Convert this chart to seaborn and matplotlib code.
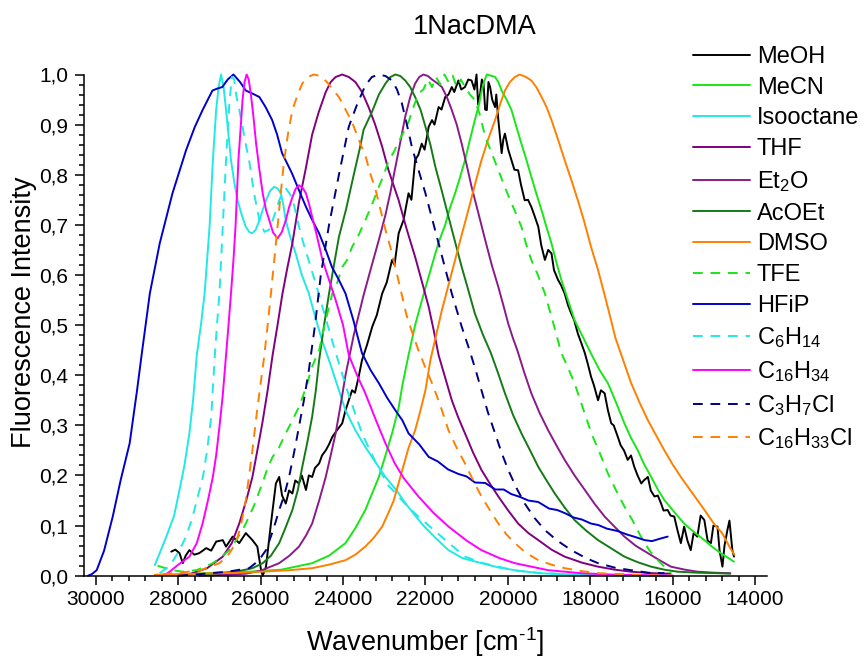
import matplotlib
matplotlib.use("Agg")
import matplotlib.pyplot as plt
from matplotlib.ticker import MultipleLocator, FuncFormatter
import seaborn as sns

# ---------------- data ----------------
meoh_wn = [28170, 28070, 27970, 27890, 27820, 27730, 27610, 27490, 27320, 27200, 27080, 26920, 26840, 26680,
           26520, 26360, 26280, 26200, 26080, 25990, 25950, 25870, 25750, 25630, 25550, 25480, 25390, 25310,
           25230, 25160, 25070, 25000, 24900, 24830, 24750, 24680, 24580, 24510, 24420, 24340, 24260, 24150,
           24020, 23940, 23860, 23780, 23710, 23620, 23540, 23420, 23290, 23180, 23050, 22940, 22810, 22750,
           22650, 22530, 22410, 22340, 22250, 22170, 22090, 22020, 21920, 21840, 21780, 21680, 21610, 21520,
           21440, 21360, 21300, 21200, 21130, 21040, 20960, 20880, 20810, 20760, 20720, 20670, 20630, 20590,
           20550, 20510, 20470, 20430, 20380, 20310, 20280, 20230, 20150, 20110, 20070, 19990, 19910, 19840,
           19750, 19680, 19590, 19510, 19430, 19360, 19260, 19190, 19100, 19020, 18940, 18880, 18780, 18710,
           18620, 18540, 18460, 18390, 18300, 18220, 18130, 18050, 17980, 17910, 17810, 17740, 17650, 17570,
           17490, 17430, 17330, 17260, 17180, 17090, 17010, 16930, 16850, 16760, 16700, 16600, 16530, 16440,
           16360, 16280, 16220, 16120, 16050, 15960, 15880, 15800, 15720, 15640, 15560, 15490, 15400, 15320,
           15230, 15150, 15070, 15010, 14910, 14860, 14790, 14740, 14670, 14620, 14550, 14510]
meoh_int = [0.048, 0.052, 0.045, 0.025, 0.040, 0.051, 0.042, 0.045, 0.055, 0.050, 0.068, 0.071, 0.058, 0.078,
            0.065, 0.085, 0.078, 0.071, 0.058, 0.011, 0.000, 0.018, 0.104, 0.184, 0.197, 0.160, 0.144, 0.170,
            0.164, 0.190, 0.184, 0.200, 0.171, 0.200, 0.197, 0.215, 0.224, 0.240, 0.250, 0.262, 0.277, 0.290,
            0.304, 0.330, 0.350, 0.370, 0.365, 0.397, 0.430, 0.460, 0.497, 0.520, 0.563, 0.585, 0.630, 0.620,
            0.683, 0.710, 0.763, 0.750, 0.829, 0.840, 0.862, 0.850, 0.896, 0.909, 0.900, 0.935, 0.930, 0.955,
            0.960, 0.975, 0.965, 0.988, 0.970, 0.975, 0.990, 0.988, 0.970, 1.000, 0.940, 0.962, 0.990, 0.982,
            0.930, 0.929, 0.985, 0.975, 0.950, 0.935, 0.960, 0.909, 0.843, 0.870, 0.882, 0.850, 0.829, 0.810,
            0.809, 0.780, 0.749, 0.750, 0.736, 0.720, 0.696, 0.660, 0.630, 0.650, 0.643, 0.610, 0.590, 0.580,
            0.563, 0.540, 0.523, 0.510, 0.483, 0.465, 0.444, 0.420, 0.397, 0.380, 0.350, 0.370, 0.364, 0.330,
            0.304, 0.300, 0.277, 0.260, 0.250, 0.231, 0.240, 0.217, 0.200, 0.184, 0.190, 0.197, 0.170, 0.158,
            0.160, 0.144, 0.130, 0.131, 0.120, 0.118, 0.090, 0.065, 0.098, 0.070, 0.051, 0.085, 0.078, 0.120,
            0.111, 0.070, 0.065, 0.100, 0.098, 0.050, 0.018, 0.060, 0.091, 0.110, 0.051, 0.038]

mecn_wn = [27970, 27000, 26280, 25500, 24750, 24340, 23940, 23700, 23460, 23290, 23130, 22970, 22810, 22650,
           22560, 22410, 22250, 22050, 21840, 21680, 21520, 21400, 21280, 21160, 21040, 20920, 20800, 20700,
           20640, 20580, 20510, 20420, 20310, 20230, 20150, 20030, 19910, 19790, 19670, 19550, 19430, 19310,
           19180, 19060, 18940, 18820, 18700, 18540, 18380, 18170, 17960, 17770, 17570, 17370, 17170, 17010,
           16850, 16690, 16520, 16360, 16200, 15960, 15720, 15480, 15230, 15030, 14830, 14660, 14510]
mecn_int = [0.003, 0.006, 0.008, 0.012, 0.025, 0.040, 0.065, 0.095, 0.131, 0.165, 0.197, 0.240, 0.284, 0.335,
            0.380, 0.440, 0.500, 0.560, 0.620, 0.665, 0.700, 0.735, 0.763, 0.795, 0.829, 0.870, 0.909, 0.940,
            0.965, 0.985, 1.000, 0.998, 0.995, 0.985, 0.968, 0.950, 0.929, 0.895, 0.862, 0.830, 0.796, 0.763,
            0.729, 0.695, 0.663, 0.625, 0.590, 0.550, 0.510, 0.475, 0.440, 0.410, 0.384, 0.345, 0.304, 0.275,
            0.251, 0.222, 0.197, 0.172, 0.151, 0.127, 0.104, 0.087, 0.071, 0.057, 0.045, 0.036, 0.028]

isooctane_wn = [28570, 28450, 28290, 28100, 27970, 27850, 27730, 27640, 27550, 27450, 27360, 27300, 27240, 27160,
                27080, 27020, 26960, 26900, 26840, 26780, 26720, 26640, 26560, 26460, 26360, 26280, 26210, 26120,
                26030, 25950, 25870, 25770, 25670, 25580, 25510, 25450, 25390, 25280, 25150, 25000, 24830, 24670,
                24510, 24300, 24100, 23940, 23700, 23460, 23200, 22970, 22700, 22490, 22250, 22050, 21750, 21440,
                21100, 20640, 20200, 19830, 19260, 18600, 17800, 16800, 16000]
isooctane_int = [0.021, 0.045, 0.078, 0.120, 0.171, 0.220, 0.284, 0.350, 0.440, 0.500, 0.563, 0.630, 0.696, 0.829,
                 0.929, 0.975, 1.000, 0.975, 0.929, 0.880, 0.829, 0.785, 0.749, 0.720, 0.696, 0.686, 0.683, 0.690,
                 0.709, 0.730, 0.749, 0.768, 0.776, 0.772, 0.763, 0.740, 0.709, 0.675, 0.643, 0.600, 0.563, 0.515,
                 0.470, 0.420, 0.370, 0.330, 0.290, 0.257, 0.225, 0.197, 0.170, 0.145, 0.120, 0.100, 0.075, 0.051,
                 0.035, 0.025, 0.016, 0.011, 0.005, 0.003, 0.001, 0.000, 0.000]

thf_wn = [28000, 27730, 27300, 26920, 26700, 26520, 26350, 26200, 26080, 25960, 25830, 25710, 25590, 25470,
          25350, 25230, 25070, 24910, 24750, 24590, 24420, 24300, 24180, 24020, 23860, 23700, 23540, 23380,
          23220, 23050, 22900, 22650, 22450, 22250, 22080, 21920, 21800, 21680, 21520, 21360, 21200, 21040,
          20840, 20640, 20430, 20230, 19990, 19750, 19500, 19260, 18940, 18620, 18200, 17810, 17400, 17010,
          16500, 16050]
thf_int = [0.000, 0.003, 0.015, 0.038, 0.065, 0.104, 0.150, 0.197, 0.250, 0.304, 0.370, 0.440, 0.500, 0.563,
           0.615, 0.663, 0.745, 0.810, 0.880, 0.925, 0.965, 0.985, 0.995, 1.000, 0.995, 0.985, 0.965, 0.935,
           0.900, 0.856, 0.810, 0.749, 0.690, 0.636, 0.585, 0.536, 0.490, 0.440, 0.395, 0.350, 0.315, 0.284,
           0.245, 0.211, 0.183, 0.158, 0.130, 0.104, 0.085, 0.071, 0.052, 0.038, 0.026, 0.018, 0.012, 0.008,
           0.005, 0.004]

et2o_wn = [27500, 26800, 26360, 26000, 25550, 25300, 25070, 24900, 24750, 24580, 24420, 24300, 24180, 24060,
           23940, 23740, 23500, 23300, 23130, 22970, 22850, 22730, 22610, 22490, 22370, 22250, 22150, 22050,
           21940, 21840, 21720, 21600, 21480, 21360, 21240, 21120, 21000, 20880, 20720, 20550, 20390, 20230,
           20110, 19990, 19880, 19770, 19600, 19430, 19230, 19020, 18820, 18620, 18380, 18130, 17890, 17650,
           17400, 17170, 16900, 16600, 16300, 16040, 15700, 15400, 15000, 14600]
et2o_int = [0.000, 0.002, 0.004, 0.010, 0.025, 0.040, 0.058, 0.080, 0.104, 0.150, 0.197, 0.240, 0.284, 0.340,
            0.400, 0.480, 0.560, 0.620, 0.670, 0.720, 0.765, 0.815, 0.865, 0.916, 0.955, 0.982, 0.995, 1.000,
            0.997, 0.990, 0.983, 0.975, 0.955, 0.929, 0.900, 0.862, 0.820, 0.776, 0.725, 0.670, 0.620, 0.576,
            0.540, 0.503, 0.475, 0.450, 0.405, 0.364, 0.325, 0.290, 0.260, 0.231, 0.200, 0.171, 0.143, 0.118,
            0.097, 0.078, 0.060, 0.045, 0.030, 0.018, 0.012, 0.008, 0.006, 0.005]

acoet_wn = [27500, 27000, 26600, 26200, 25950, 25750, 25550, 25400, 25230, 25100, 24990, 24870, 24750, 24660,
            24580, 24460, 24340, 24220, 24100, 23930, 23740, 23600, 23500, 23300, 23130, 22970, 22850, 22730,
            22610, 22490, 22370, 22250, 22120, 22000, 21880, 21760, 21600, 21440, 21280, 21120, 20960, 20800,
            20600, 20410, 20240, 20070, 19870, 19670, 19460, 19260, 19060, 18860, 18620, 18380, 18100, 17810,
            17500, 17170, 16850, 16520, 16200, 15880, 15400, 14900, 14600]
acoet_int = [0.002, 0.005, 0.008, 0.015, 0.025, 0.040, 0.065, 0.095, 0.131, 0.170, 0.217, 0.265, 0.317, 0.370,
             0.430, 0.500, 0.563, 0.620, 0.676, 0.730, 0.800, 0.850, 0.890, 0.925, 0.960, 0.982, 0.995, 1.000,
             0.997, 0.988, 0.975, 0.955, 0.930, 0.896, 0.860, 0.816, 0.767, 0.716, 0.666, 0.616, 0.570, 0.523,
             0.480, 0.444, 0.405, 0.364, 0.320, 0.284, 0.250, 0.217, 0.190, 0.164, 0.136, 0.111, 0.090, 0.071,
             0.055, 0.038, 0.027, 0.018, 0.012, 0.008, 0.006, 0.005, 0.004]

dmso_wn = [28570, 27500, 26500, 25960, 25300, 24750, 24340, 23940, 23700, 23460, 23250, 23050, 22900, 22770,
           22650, 22530, 22410, 22250, 22120, 22000, 21880, 21740, 21600, 21440, 21280, 21120, 20960, 20800,
           20640, 20480, 20310, 20190, 20070, 19950, 19830, 19710, 19560, 19430, 19310, 19180, 19060, 18940,
           18780, 18620, 18460, 18300, 18140, 17980, 17810, 17650, 17510, 17390, 17200, 17010, 16800, 16600,
           16400, 16200, 16000, 15800, 15600, 15400, 15200, 15000, 14800, 14600, 14500]
dmso_int = [0.002, 0.004, 0.006, 0.008, 0.011, 0.015, 0.022, 0.031, 0.042, 0.058, 0.076, 0.098, 0.125, 0.150,
            0.185, 0.220, 0.255, 0.290, 0.330, 0.370, 0.430, 0.480, 0.530, 0.580, 0.630, 0.680, 0.729, 0.780,
            0.829, 0.870, 0.909, 0.940, 0.968, 0.985, 0.995, 1.000, 0.995, 0.988, 0.975, 0.955, 0.935, 0.909,
            0.870, 0.829, 0.790, 0.749, 0.705, 0.656, 0.610, 0.560, 0.515, 0.475, 0.430, 0.385, 0.345, 0.310,
            0.280, 0.250, 0.222, 0.197, 0.174, 0.151, 0.128, 0.104, 0.085, 0.055, 0.042]

tfe_wn = [28500, 28200, 27900, 27560, 27350, 27160, 26960, 26760, 26560, 26360, 26160, 25960, 25830, 25710,
          25560, 25390, 25230, 25070, 24900, 24750, 24660, 24580, 24420, 24260, 24140, 24020, 23900, 23780,
          23620, 23460, 23300, 23130, 23010, 22890, 22770, 22650, 22530, 22410, 22290, 22170, 22050, 21940,
          21840, 21740, 21640, 21540, 21440, 21340, 21240, 21140, 21040, 20920, 20800, 20680, 20550, 20400,
          20230, 20070, 19910, 19790, 19670, 19550, 19430, 19270, 19100, 18900, 18700, 18540, 18380, 18180,
          17970, 17770, 17570, 17370, 17170, 16970, 16770, 16560, 16360, 16200, 16040]
tfe_int = [0.020, 0.012, 0.008, 0.011, 0.018, 0.025, 0.037, 0.051, 0.075, 0.104, 0.140, 0.184, 0.215, 0.237,
           0.255, 0.284, 0.310, 0.337, 0.375, 0.417, 0.435, 0.450, 0.510, 0.563, 0.585, 0.616, 0.630, 0.656,
           0.680, 0.709, 0.740, 0.776, 0.800, 0.829, 0.845, 0.866, 0.885, 0.905, 0.935, 0.962, 0.970, 0.990,
           0.975, 0.995, 0.980, 1.000, 0.985, 0.998, 0.975, 0.990, 0.975, 0.960, 0.949, 0.920, 0.876, 0.845,
           0.809, 0.775, 0.743, 0.720, 0.696, 0.660, 0.630, 0.600, 0.563, 0.505, 0.444, 0.415, 0.384, 0.335,
           0.284, 0.245, 0.204, 0.170, 0.138, 0.110, 0.078, 0.050, 0.031, 0.018, 0.005]

hfip_wn = [30190, 30100, 29980, 29800, 29590, 29400, 29180, 29000, 28890, 28690, 28450, 28140, 27810, 27600,
           27410, 27170, 27050, 26930, 26800, 26660, 26500, 26360, 26200, 26030, 25880, 25720, 25600, 25480,
           25240, 25100, 24900, 24750, 24580, 24420, 24270, 24100, 23940, 23750, 23540, 23330, 23130, 22930,
           22730, 22560, 22410, 22150, 21920, 21700, 21450, 21200, 21000, 20800, 20550, 20300, 20100, 19920,
           19700, 19500, 19260, 19000, 18800, 18620, 18400, 18200, 17980, 17800, 17600, 17330, 17100, 16900,
           16680, 16500, 16300, 16120]
hfip_int = [0.000, 0.003, 0.011, 0.050, 0.118, 0.190, 0.264, 0.370, 0.440, 0.563, 0.663, 0.763, 0.849, 0.895,
            0.929, 0.968, 0.972, 0.975, 0.990, 1.000, 0.985, 0.968, 0.962, 0.955, 0.935, 0.909, 0.880, 0.843,
            0.803, 0.775, 0.736, 0.710, 0.683, 0.650, 0.616, 0.590, 0.563, 0.510, 0.444, 0.410, 0.384, 0.355,
            0.330, 0.310, 0.284, 0.262, 0.237, 0.228, 0.212, 0.203, 0.198, 0.186, 0.185, 0.172, 0.172, 0.163,
            0.157, 0.150, 0.147, 0.134, 0.131, 0.125, 0.116, 0.112, 0.104, 0.101, 0.094, 0.089, 0.082, 0.077,
            0.071, 0.069, 0.074, 0.078]

c6h14_wn = [28450, 28200, 27970, 27800, 27650, 27520, 27400, 27300, 27200, 27120, 27060, 27000, 26920, 26840,
            26760, 26700, 26640, 26600, 26520, 26440, 26360, 26280, 26160, 26030, 25910, 25800, 25710, 25620,
            25550, 25460, 25380, 25280, 25190, 25080, 24950, 24800, 24580, 24270, 23900, 23540, 23200, 22900,
            22730, 22400, 21920, 21500, 21040, 20600, 20230, 19800, 19260, 18600, 17800, 16800, 16000]
c6h14_int = [0.005, 0.020, 0.051, 0.080, 0.118, 0.160, 0.197, 0.250, 0.317, 0.430, 0.500, 0.563, 0.696, 0.829,
             0.942, 0.995, 0.990, 0.962, 0.930, 0.896, 0.860, 0.829, 0.763, 0.709, 0.686, 0.690, 0.709, 0.730,
             0.749, 0.765, 0.772, 0.760, 0.740, 0.700, 0.660, 0.620, 0.560, 0.470, 0.370, 0.284, 0.225, 0.180,
             0.165, 0.135, 0.100, 0.070, 0.038, 0.025, 0.018, 0.010, 0.006, 0.003, 0.001, 0.000, 0.000]

c16h34_wn = [28300, 28210, 28000, 27730, 27550, 27410, 27280, 27160, 27080, 27000, 26920, 26840, 26780, 26720,
             26660, 26610, 26540, 26480, 26440, 26390, 26340, 26290, 26240, 26180, 26110, 26030, 25950, 25870,
             25790, 25700, 25590, 25490, 25390, 25310, 25230, 25150, 25070, 24990, 24900, 24820, 24750, 24640,
             24500, 24340, 24180, 24000, 23860, 23660, 23460, 23200, 22970, 22750, 22530, 22170, 21800, 21440,
             21000, 20640, 20200, 19830, 19020, 18220, 17400, 16600, 16000]
c16h34_int = [0.003, 0.008, 0.022, 0.038, 0.065, 0.104, 0.150, 0.197, 0.240, 0.297, 0.360, 0.440, 0.500, 0.563,
              0.630, 0.696, 0.829, 0.900, 0.949, 0.985, 1.000, 0.990, 0.962, 0.920, 0.862, 0.810, 0.763, 0.730,
              0.709, 0.685, 0.673, 0.685, 0.709, 0.735, 0.755, 0.772, 0.779, 0.775, 0.763, 0.740, 0.716, 0.680,
              0.630, 0.590, 0.550, 0.500, 0.440, 0.400, 0.364, 0.310, 0.264, 0.225, 0.195, 0.158, 0.125, 0.098,
              0.070, 0.051, 0.035, 0.025, 0.011, 0.005, 0.002, 0.001, 0.000]

c3h7cl_wn = [28000, 27490, 26800, 26280, 26050, 25870, 25700, 25550, 25430, 25310, 25190, 25070, 24950, 24830,
             24680, 24540, 24340, 24100, 23860, 23660, 23460, 23300, 23130, 22970, 22810, 22690, 22570, 22450,
             22330, 22170, 22000, 21840, 21680, 21520, 21360, 21240, 21120, 20930, 20780, 20640, 20480, 20310,
             20150, 19990, 19790, 19590, 19350, 19100, 18800, 18460, 18100, 17810, 17400, 17010, 16600, 16200]
c3h7cl_int = [0.000, 0.003, 0.008, 0.015, 0.030, 0.051, 0.090, 0.131, 0.160, 0.197, 0.245, 0.297, 0.350, 0.410,
              0.500, 0.600, 0.700, 0.800, 0.896, 0.940, 0.978, 0.995, 1.000, 0.997, 0.988, 0.970, 0.942, 0.900,
              0.856, 0.810, 0.763, 0.713, 0.663, 0.613, 0.563, 0.530, 0.497, 0.450, 0.410, 0.370, 0.325, 0.284,
              0.245, 0.211, 0.175, 0.144, 0.115, 0.091, 0.070, 0.051, 0.035, 0.025, 0.016, 0.011, 0.006, 0.005]

c16h33cl_wn = [28380, 28000, 27490, 27000, 26800, 26600, 26480, 26360, 26280, 26200, 26100, 26000, 25910, 25830,
               25750, 25670, 25590, 25510, 25430, 25330, 25230, 25100, 24990, 24850, 24710, 24550, 24390, 24250,
               24100, 23940, 23780, 23620, 23450, 23330, 23210, 23090, 22970, 22850, 22730, 22600, 22460, 22300,
               22170, 22000, 21840, 21640, 21440, 21240, 21040, 20840, 20640, 20430, 20230, 20030, 19830, 19550,
               19260, 18940, 18620, 18200, 17800, 17200, 16600, 16000]
c16h33cl_int = [0.003, 0.006, 0.010, 0.025, 0.040, 0.065, 0.100, 0.151, 0.200, 0.250, 0.320, 0.384, 0.440, 0.500,
                0.563, 0.630, 0.696, 0.765, 0.829, 0.885, 0.929, 0.960, 0.982, 0.995, 1.000, 0.997, 0.985, 0.970,
                0.955, 0.930, 0.905, 0.870, 0.836, 0.800, 0.770, 0.730, 0.690, 0.655, 0.615, 0.570, 0.520, 0.480,
                0.450, 0.415, 0.384, 0.340, 0.290, 0.255, 0.224, 0.190, 0.158, 0.130, 0.104, 0.082, 0.065, 0.045,
                0.031, 0.022, 0.015, 0.009, 0.005, 0.003, 0.001, 0.000]

labels = ["MeOH", "MeCN", "Isooctane", "THF", "Et$_2$O", "AcOEt", "DMSO", "TFE", "HFiP",
          "C$_6$H$_{14}$", "C$_{16}$H$_{34}$", "C$_3$H$_7$Cl", "C$_{16}$H$_{33}$Cl"]
colors = ["#000000", "#19e619", "#22e8e8", "#800080", "#8a1a8a", "#157a15", "#ff8000", "#19e619",
          "#0000cc", "#22e8e8", "#ff00ff", "#000080", "#ff8000"]
styles = ["-", "-", "-", "-", "-", "-", "-", "--", "-", "--", "-", "--", "--"]

series = [(meoh_wn, meoh_int), (mecn_wn, mecn_int), (isooctane_wn, isooctane_int), (thf_wn, thf_int),
          (et2o_wn, et2o_int), (acoet_wn, acoet_int), (dmso_wn, dmso_int), (tfe_wn, tfe_int),
          (hfip_wn, hfip_int), (c6h14_wn, c6h14_int), (c16h34_wn, c16h34_int), (c3h7cl_wn, c3h7cl_int),
          (c16h33cl_wn, c16h33cl_int)]

# ---------------- style ----------------
sns.set_style("ticks")
plt.rcParams["font.family"] = ["Liberation Sans", "DejaVu Sans"]
plt.rcParams["mathtext.fontset"] = "custom"
plt.rcParams["mathtext.rm"] = "Liberation Sans"
plt.rcParams["mathtext.it"] = "Liberation Sans:italic"
plt.rcParams["mathtext.default"] = "regular"
plt.rcParams["text.color"] = "black"
plt.rcParams["axes.labelcolor"] = "black"
plt.rcParams["xtick.color"] = "black"
plt.rcParams["ytick.color"] = "black"

W, H = 868, 665
fig = plt.figure(figsize=(W / 100, H / 100), dpi=100)
left, right, bottom, top = 83.5, 766.7, 575.7, 74.5
ax = fig.add_axes([left / W, 1 - bottom / H, (right - left) / W, (bottom - top) / H])

for (wn, it), lab, col, ls in zip(series, labels, colors, styles):
    line_style = (0, (5, 4)) if ls == "--" else "-"
    sns.lineplot(x=wn, y=it, ax=ax, color=col, linestyle=line_style, linewidth=1.4,
                 sort=False, estimator=None, label=lab, clip_on=False)

ax.set_xlim(30300, 13716)
ax.set_ylim(0, 1.0)
ax.xaxis.set_major_locator(MultipleLocator(2000))
ax.xaxis.set_minor_locator(MultipleLocator(400))
ax.yaxis.set_major_locator(MultipleLocator(0.1))
ax.yaxis.set_minor_locator(MultipleLocator(0.02))
ax.yaxis.set_major_formatter(FuncFormatter(lambda v, p: f"{v:.1f}".replace(".", ",")))
ax.xaxis.set_major_formatter(FuncFormatter(lambda v, p: f"{int(round(v))}"))

for s in ["top", "right"]:
    ax.spines[s].set_visible(False)
for s in ["left", "bottom"]:
    ax.spines[s].set_linewidth(1.1)
    ax.spines[s].set_color("black")

ax.tick_params(axis="both", which="major", direction="out", length=6.5, width=1.1,
               labelsize=15, color="black", labelcolor="black")
ax.tick_params(axis="both", which="minor", direction="out", length=3.6, width=1.1, color="black")
ax.tick_params(axis="x", which="major", pad=3.5)
ax.tick_params(axis="y", which="major", pad=4.5)

ax.set_xlabel("Wavenumber [cm$^{\u20101}$]", fontsize=19.5, color="black")
ax.set_ylabel("Fluorescence Intensity", fontsize=19.5, color="black")
ax.xaxis.set_label_coords(0.5, (bottom - 625) / (bottom - top))
ax.yaxis.set_label_coords((37 - left) / (right - left), 0.525)

fig.text(475 / W, 1 - 27 / H, "1NacDMA", ha="center", va="center", fontsize=19.5, color="black")

handles, labs = ax.get_legend_handles_labels()
ax.get_legend().remove()
fig.legend(handles, labs, loc="upper left", bbox_to_anchor=(693 / W, 1 - 46 / H),
           frameon=False, fontsize=17, handlelength=2.4, handletextpad=0.3,
           labelspacing=0.37, borderpad=0, borderaxespad=0, labelcolor="black")

fig.savefig("out.png", dpi=100)
